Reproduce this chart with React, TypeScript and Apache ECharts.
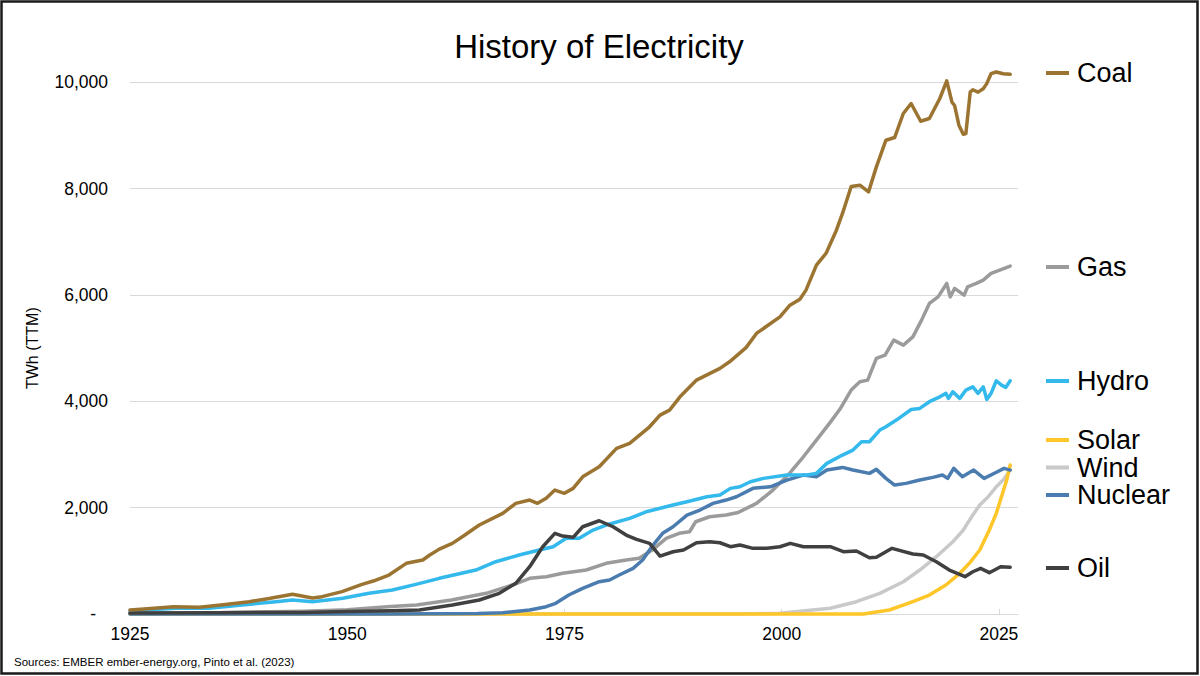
import React, { useEffect, useRef } from "react";
import * as echarts from "echarts";

type Pt = [number, number];

const seriesNames = ["Coal", "Gas", "Hydro", "Solar", "Wind", "Nuclear", "Oil"];
const seriesColors = ["#9C7431", "#9B9B9B", "#33B9EC", "#FFC629", "#C9C9C9", "#4B7CAF", "#404040"];

const xTicks = [1925, 1950, 1975, 2000, 2025];

const coal: Pt[] = [
  [1925, 75], [1927, 100], [1930, 137], [1933, 125], [1936, 180], [1938.7, 231], [1941, 290],
  [1943.7, 370], [1946, 300], [1947.1, 326], [1949.4, 420], [1951.7, 558], [1953, 620],
  [1954.8, 733], [1956.8, 953], [1958.7, 1015], [1959.5, 1109], [1960.6, 1220], [1962.1, 1329],
  [1963.5, 1480], [1965.2, 1673], [1967.9, 1893], [1969.4, 2081], [1971, 2143], [1971.9, 2081],
  [1972.9, 2175], [1973.9, 2331], [1975, 2269], [1976, 2363], [1977.1, 2581], [1979, 2769],
  [1981, 3115], [1982.5, 3209], [1984.8, 3521], [1986, 3741], [1987.1, 3835], [1988.3, 4085],
  [1990.2, 4399], [1992.9, 4619], [1994, 4743], [1995.9, 5010], [1997.1, 5277], [1999.8, 5589],
  [2000.9, 5800], [2002.1, 5920], [2002.8, 6091], [2004, 6561], [2005.1, 6781], [2006.3, 7219],
  [2007, 7533], [2008, 8040], [2009, 8065], [2010, 7939], [2010.9, 8409], [2012, 8911],
  [2013, 8961], [2014, 9413], [2014.9, 9601], [2016, 9268], [2017, 9319], [2018.2, 9695],
  [2019, 10026], [2019.6, 9627], [2019.9, 9564], [2020.4, 9193], [2020.9, 9024], [2021.2, 9037],
  [2021.7, 9815], [2022, 9860], [2022.6, 9815], [2023.2, 9880], [2023.6, 9975], [2024.1, 10162],
  [2024.7, 10194], [2025.5, 10162], [2026.3, 10150],
];

const gas: Pt[] = [
  [1925, 15], [1935, 25], [1945, 50], [1950, 80], [1955, 140], [1958, 170], [1962, 263],
  [1966, 389], [1969, 545], [1971, 671], [1972.9, 701], [1974.8, 765], [1977.5, 827],
  [1979.8, 953], [1982.1, 1015], [1983.6, 1047], [1985.1, 1203], [1986.7, 1423], [1988.2, 1517],
  [1989.4, 1547], [1990.1, 1735], [1991.7, 1829], [1993.6, 1861], [1995, 1910], [1997.1, 2081],
  [1999, 2331], [2000.9, 2645], [2002.5, 2957], [2004, 3271], [2005.5, 3585], [2006.7, 3850],
  [2008, 4211], [2009, 4367], [2009.9, 4399], [2010.9, 4807], [2011.9, 4869], [2012.9, 5151],
  [2014, 5057], [2015.1, 5213], [2016.1, 5527], [2017, 5841], [2018, 5965], [2019, 6217],
  [2019.4, 5965], [2019.9, 6123], [2021, 5997], [2021.4, 6153], [2022.4, 6217], [2023.2, 6279],
  [2024.1, 6405], [2025.1, 6467], [2026.3, 6542],
];

const hydro: Pt[] = [
  [1925, 62], [1930.3, 107], [1934.1, 107], [1937.9, 169], [1941.8, 231], [1943.7, 263],
  [1946, 231], [1949.5, 295], [1952.5, 389], [1955.2, 451], [1957.9, 558], [1960.6, 671],
  [1964.8, 827], [1967.1, 983], [1969.8, 1109], [1972.1, 1203], [1973.7, 1265], [1975.2, 1423],
  [1976.7, 1423], [1978.3, 1579], [1979.8, 1673], [1982.5, 1799], [1984.4, 1923], [1987.5, 2049],
  [1989.1, 2111], [1991.4, 2205], [1992.9, 2237], [1994.1, 2363], [1995.2, 2393], [1996.4, 2487],
  [1997.9, 2551], [2000.6, 2613], [2002.9, 2613], [2004, 2645], [2005.2, 2833], [2007, 2989],
  [2008.2, 3083], [2009.2, 3239], [2010.1, 3239], [2011.3, 3459], [2012, 3521], [2013.2, 3647],
  [2014.9, 3847], [2015.9, 3867], [2017, 3993], [2018.2, 4085], [2018.9, 4149], [2019.2, 4055],
  [2019.7, 4180], [2020.5, 4055], [2021.2, 4211], [2022, 4273], [2022.6, 4149], [2023.2, 4273],
  [2023.6, 4036], [2024.1, 4149], [2024.7, 4387], [2025.3, 4305], [2025.8, 4262], [2026.3, 4387],
];

const solar: Pt[] = [
  [1925, 0], [2009.4, 0], [2012.4, 75], [2015.1, 231], [2017, 357], [2018.9, 545],
  [2020.5, 765], [2021.6, 953], [2022.8, 1203], [2023.9, 1579], [2024.7, 1893], [2025.3, 2205],
  [2025.9, 2519], [2026.3, 2801],
];

const wind: Pt[] = [
  [1925, 0], [1995, 0], [1999.8, 12], [2005.6, 107], [2008.6, 231], [2011.3, 389], [2014, 607],
  [2015.9, 827], [2017.8, 1077], [2019.7, 1359], [2020.9, 1579], [2022, 1861], [2022.8, 2049],
  [2023.6, 2175], [2024.7, 2393], [2025.6, 2540], [2026.3, 2707],
];

const nuclear: Pt[] = [
  [1925, 0], [1955, 0], [1960, 5], [1965, 10], [1967.9, 25], [1971, 75], [1972.9, 137],
  [1974, 201], [1975.5, 357], [1977.1, 483], [1979, 607], [1980.2, 639], [1981.3, 733],
  [1982.9, 859], [1984, 1015], [1985.2, 1297], [1986.3, 1517], [1987.5, 1641], [1989.1, 1861],
  [1990.6, 1955], [1992.1, 2081], [1993.6, 2143], [1994.8, 2205], [1996.7, 2363], [1998.7, 2393],
  [2000.6, 2519], [2002.5, 2613], [2004, 2581], [2005.2, 2707], [2007, 2757], [2008.2, 2707],
  [2010.1, 2645], [2010.9, 2720], [2012, 2551], [2013, 2425], [2014.3, 2457], [2015.9, 2519],
  [2017.4, 2570], [2018.5, 2613], [2019.1, 2551], [2019.8, 2739], [2020.8, 2581], [2022.1, 2707],
  [2023.3, 2551], [2024.6, 2657], [2025.6, 2739], [2026.3, 2707],
];

const oil: Pt[] = [
  [1925, 20], [1935, 25], [1945, 30], [1950, 45], [1955, 60], [1958.3, 75], [1962.1, 169],
  [1965.2, 263], [1967.5, 389], [1969.4, 577], [1971, 889], [1972.5, 1265], [1973.9, 1517],
  [1974.8, 1466], [1976, 1442], [1977.1, 1641], [1979, 1754], [1980.6, 1641], [1982.1, 1485],
  [1983.3, 1404], [1984.8, 1329], [1986, 1090], [1987.5, 1171], [1988.7, 1203], [1990.2, 1340],
  [1991.7, 1359], [1992.9, 1340], [1994.1, 1265], [1995.2, 1297], [1996.7, 1235], [1998.3, 1235],
  [1999.8, 1265], [2001, 1329], [2002.5, 1265], [2005.6, 1265], [2007.1, 1171], [2008.6, 1184],
  [2010.1, 1059], [2010.9, 1066], [2012.7, 1235], [2015.1, 1128], [2016.3, 1109], [2017.8, 983],
  [2019.3, 827], [2021.1, 701], [2022, 795], [2022.9, 859], [2023.9, 777], [2025.2, 889],
  [2026.3, 880],
];

const seriesData: Pt[][] = [coal, gas, hydro, solar, wind, nuclear, oil];
// drawing order (bottom to top) by index into seriesNames
const drawOrder = [4, 3, 1, 5, 2, 6, 0];

const FONT = "'Liberation Sans', Arial, Helvetica, sans-serif";

export default function App() {
  const ref = useRef<HTMLDivElement | null>(null);

  useEffect(() => {
    if (!ref.current) return;
    const chart = echarts.init(ref.current, undefined, { renderer: "svg" });

    const legendY = [73, 267, 381, 440, 467.5, 495, 568];

    const legendGraphics = seriesNames.map((name, i) => ({
      type: "group",
      children: [
        {
          type: "line",
          shape: { x1: 1046, y1: legendY[i], x2: 1069, y2: legendY[i] },
          style: { stroke: seriesColors[i], lineWidth: 4 },
        },
        {
          type: "text",
          x: 1077,
          y: legendY[i],
          style: {
            text: name,
            fill: "#000",
            fontSize: 27,
            fontFamily: FONT,
            verticalAlign: "middle",
            align: "left",
          },
        },
      ],
    }));

    const option: any = {
      animation: false,
      backgroundColor: "#ffffff",
      textStyle: { fontFamily: FONT },
      grid: { left: 130, right: 182, top: 82.3, bottom: 62, containLabel: false },
      xAxis: {
        type: "value",
        min: 1925,
        max: 2027.2,
        axisLine: { show: true, lineStyle: { color: "#d9d9d9", width: 1 } },
        axisTick: {
          show: true,
          inside: true,
          length: 5,
          customValues: xTicks,
          lineStyle: { color: "#d9d9d9" },
        },
        axisLabel: {
          customValues: xTicks,
          formatter: (v: number) => String(v),
          color: "#000",
          fontSize: 17.5,
          fontFamily: FONT,
          margin: 11,
        },
        splitLine: { show: false },
      },
      yAxis: {
        type: "value",
        min: 0,
        max: 10000,
        interval: 2000,
        name: "TWh (TTM)",
        nameLocation: "middle",
        nameGap: 90,
        nameTextStyle: { color: "#000", fontSize: 16, fontFamily: FONT },
        axisLine: { show: false },
        axisTick: { show: false },
        axisLabel: {
          color: "#000",
          fontSize: 17.5,
          fontFamily: FONT,
          margin: 22,
          formatter: (v: number) =>
            v === 0 ? "{d|-}" : v.toLocaleString("en-US"),
          rich: {
            d: { fontSize: 17.5, fontFamily: FONT, color: "#000", padding: [0, 12, 0, 0] },
          },
        },
        splitLine: { show: true, lineStyle: { color: "#d9d9d9", width: 1 } },
      },
      series: drawOrder.map((i) => ({
        name: seriesNames[i],
        type: "line",
        data: seriesData[i],
        showSymbol: false,
        symbol: "none",
        clip: false,
        smooth: false,
        lineStyle: { color: seriesColors[i], width: 3.5, cap: "round", join: "round" },
        itemStyle: { color: seriesColors[i] },
        emphasis: { disabled: true },
      })),
      graphic: [
        {
          type: "rect",
          shape: { x: 1.5, y: 1.5, width: 1196, height: 672 },
          style: { fill: "none", stroke: "#1a1a1a", lineWidth: 2.5 },
          z: 100,
        },
        {
          type: "text",
          x: 599,
          y: 46,
          style: {
            text: "History of Electricity",
            fill: "#000",
            fontSize: 33,
            fontFamily: FONT,
            align: "center",
            verticalAlign: "middle",
          },
        },
        ...legendGraphics,
        {
          type: "text",
          x: 14,
          y: 662,
          style: {
            text: "Sources: EMBER ember-energy.org, Pinto et al. (2023)",
            fill: "#000",
            fontSize: 11.5,
            fontFamily: FONT,
            align: "left",
            verticalAlign: "middle",
          },
        },
      ],
    };

    chart.setOption(option);
    return () => {
      chart.dispose();
    };
  }, []);

  return (
    <div
      ref={ref}
      style={{ position: "fixed", left: 0, top: 0, width: 1200, height: 676, background: "#fff" }}
    />
  );
}
